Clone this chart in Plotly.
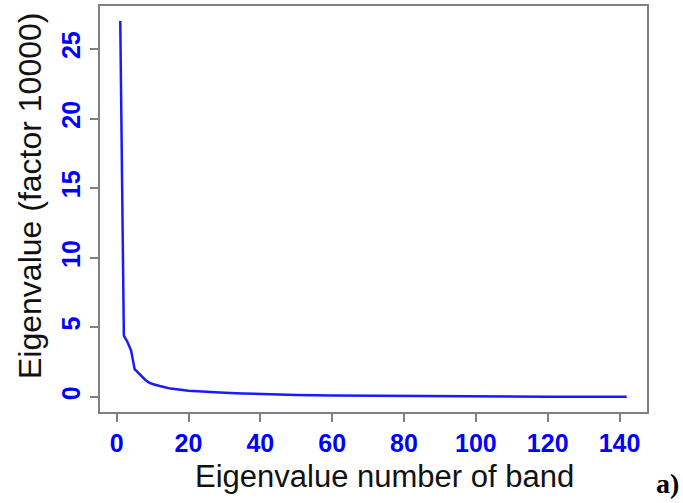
import plotly.graph_objects as go

bands = [1, 2, 3, 4, 5, 6, 7, 8, 9, 10, 12, 15, 20, 25, 30, 35, 40, 50, 60, 70, 80, 90, 100, 110, 120, 130, 142]
eigen = [27.0, 4.4, 3.95, 3.35, 2.0, 1.72, 1.43, 1.22, 1.03, 0.93, 0.79, 0.6, 0.45, 0.36, 0.3, 0.25, 0.2, 0.14, 0.1, 0.08, 0.06, 0.05, 0.04, 0.03, 0.02, 0.015, 0.01]

x_ticks = [0, 20, 40, 60, 80, 100, 120, 140]
y_ticks = [0, 5, 10, 15, 20, 25]

x_title = "Eigenvalue number of band"
y_title = "Eigenvalue (factor 10000)"
panel_label = "a)"

fig = go.Figure()
fig.add_trace(go.Scatter(x=bands, y=eigen, mode="lines",
                         line=dict(color="#1a1aff", width=2.5)))

axis_common = dict(showline=True, linecolor="#808080", linewidth=1.5, mirror=True,
                   ticks="outside", tickcolor="#808080", ticklen=8, tickwidth=1.5,
                   showgrid=False, zeroline=False, automargin=False,
                   tickfont=dict(family="Liberation Sans", size=25, color="#0000ff", weight="bold"))

fig.update_xaxes(range=[-4.64, 147.64], tickvals=x_ticks, **axis_common)
fig.update_yaxes(range=[-1.08, 28.08], tickvals=y_ticks, tickangle=-90, **axis_common)

fig.add_annotation(text=x_title, xref="paper", yref="paper", x=0.521, y=-0.160,
                   xanchor="center", yanchor="middle", showarrow=False,
                   font=dict(family="Liberation Sans", size=31, color="#111111"))
fig.add_annotation(text=y_title, xref="paper", yref="paper", x=-0.128, y=0.532,
                   xanchor="center", yanchor="middle", showarrow=False, textangle=-90,
                   font=dict(family="Liberation Sans", size=32, color="#111111"))
fig.add_annotation(text="<b>" + panel_label + "</b>", xref="paper", yref="paper", x=1.037, y=-0.176,
                   xanchor="center", yanchor="middle", showarrow=False,
                   font=dict(family="Liberation Serif", size=28, color="#000000"))

fig.update_layout(width=683, height=503, showlegend=False,
                  paper_bgcolor="white", plot_bgcolor="white",
                  margin=dict(l=100, r=36, t=6, b=91))

fig.write_html("out.html", config={"displayModeBar": False},
               post_script="document.body.style.margin='0';document.body.style.overflow='hidden';")
